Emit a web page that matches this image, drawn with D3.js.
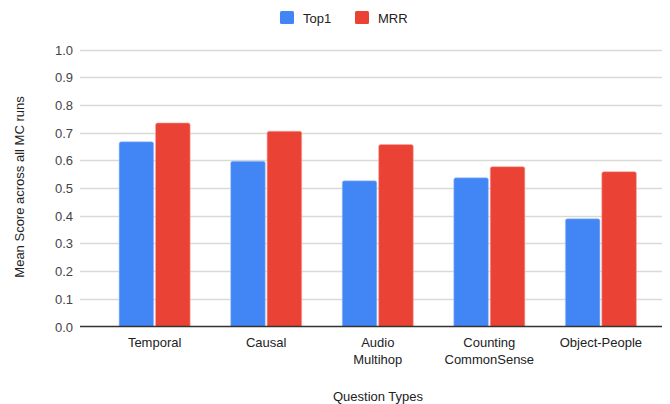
<!DOCTYPE html>
<html>
<head>
<meta charset="utf-8">
<script src="https://cdn.jsdelivr.net/npm/d3@7"></script>
<style>
  html, body { margin: 0; padding: 0; background: #fff; }
  svg { display: block; font-family: "Liberation Sans", Arial, sans-serif; }
</style>
</head>
<body>
<svg id="chart" width="670" height="404"></svg>
<script>
// Question categories (label lines) and per-series mean scores
const categories = ["Temporal", "Causal", "Audio Multihop", "Counting CommonSense", "Object-People"];
const categoryLines = [["Temporal"], ["Causal"], ["Audio", "Multihop"], ["Counting", "CommonSense"], ["Object-People"]];
const seriesNames = ["Top1", "MRR"];
const top1Values = [0.667, 0.597, 0.526, 0.537, 0.389];
const mrrValues = [0.735, 0.705, 0.657, 0.577, 0.559];
const yTicks = [0, 0.1, 0.2, 0.3, 0.4, 0.5, 0.6, 0.7, 0.8, 0.9, 1.0];
const colors = { Top1: "#4285F4", MRR: "#EA4335" };

const svg = d3.select("#chart");

const x = d3.scaleBand().domain(categories).range([99, 656.5]).paddingInner(0.363).paddingOuter(0.18);
const xs = d3.scaleBand().domain(seriesNames).range([0, x.bandwidth()]).paddingInner(0.05);
const y = d3.scaleLinear().domain([0, 1]).range([326.5, 49.5]);

const gridLeft = 80, gridRight = 662;

// horizontal gridlines
svg.append("g").selectAll("line").data(yTicks.filter(t => t > 0)).join("line")
  .attr("x1", gridLeft).attr("x2", gridRight)
  .attr("y1", d => Math.round(y(d)) + 0.5).attr("y2", d => Math.round(y(d)) + 0.5)
  .attr("stroke", "#d9d9d9").attr("stroke-width", 1.3);

// y axis tick labels
const yAxis = d3.axisLeft(y).tickValues(yTicks).tickFormat(d3.format(".1f")).tickSize(0).tickPadding(0);
const gy = svg.append("g").attr("transform", `translate(73,0)`).call(yAxis);
gy.select(".domain").remove();
gy.selectAll("text").attr("fill", "#444").attr("font-size", 13)
  .attr("font-family", "Liberation Sans, Arial, sans-serif").attr("dy", "0.35em");

// rounded-top bar path
function barPath(x0, w, yTop, yBase, r) {
  r = Math.min(r, w / 2, yBase - yTop);
  return `M${x0},${yBase}V${yTop + r}Q${x0},${yTop} ${x0 + r},${yTop}H${x0 + w - r}Q${x0 + w},${yTop} ${x0 + w},${yTop + r}V${yBase}Z`;
}

const rows = categories.map((c, i) => ({ cat: c, values: [
  { s: "Top1", v: top1Values[i] }, { s: "MRR", v: mrrValues[i] }
]}));

const groups = svg.append("g").selectAll("g").data(rows).join("g")
  .attr("transform", d => `translate(${x(d.cat)},0)`);
groups.selectAll("path").data(d => d.values).join("path")
  .attr("d", d => barPath(xs(d.s), xs.bandwidth(), y(d.v), y(0), 2))
  .attr("fill", d => colors[d.s])
  .attr("stroke", d => d.s === "Top1" ? "#a9c7f9" : "#f5aaa3")
  .attr("stroke-width", 0.6);

// baseline
svg.append("line").attr("x1", gridLeft).attr("x2", gridRight)
  .attr("y1", y(0)).attr("y2", y(0)).attr("stroke", "#333").attr("stroke-width", 1.3);

// x category labels
const xl = svg.append("g").selectAll("text").data(categories).join("text")
  .attr("x", d => x(d) + x.bandwidth() / 2).attr("y", 347)
  .attr("text-anchor", "middle").attr("font-size", 13).attr("fill", "#222");
xl.each(function(d, i) {
  d3.select(this).selectAll("tspan").data(categoryLines[i]).join("tspan")
    .attr("x", x(d) + x.bandwidth() / 2).attr("dy", (t, j) => j === 0 ? 0 : 17).text(t => t);
});

// axis titles
svg.append("text").attr("x", 378).attr("y", 401).attr("text-anchor", "middle")
  .attr("font-size", 13).attr("fill", "#222").text("Question Types");
svg.append("text").attr("transform", "translate(24,187) rotate(-90)").attr("text-anchor", "middle")
  .attr("font-size", 13).attr("fill", "#222").text("Mean Score across all MC runs");

// legend
const legend = svg.append("g");
const legendItems = [{ s: "Top1", x: 280 }, { s: "MRR", x: 355 }];
legend.selectAll("rect").data(legendItems).join("rect")
  .attr("x", d => d.x).attr("y", 11).attr("width", 14).attr("height", 13)
  .attr("rx", 1.5).attr("fill", d => colors[d.s]);
legend.selectAll("text").data(legendItems).join("text")
  .attr("x", d => d.x + 23).attr("y", 22.5).attr("font-size", 13).attr("fill", "#222")
  .text(d => d.s);
</script>
</body>
</html>
